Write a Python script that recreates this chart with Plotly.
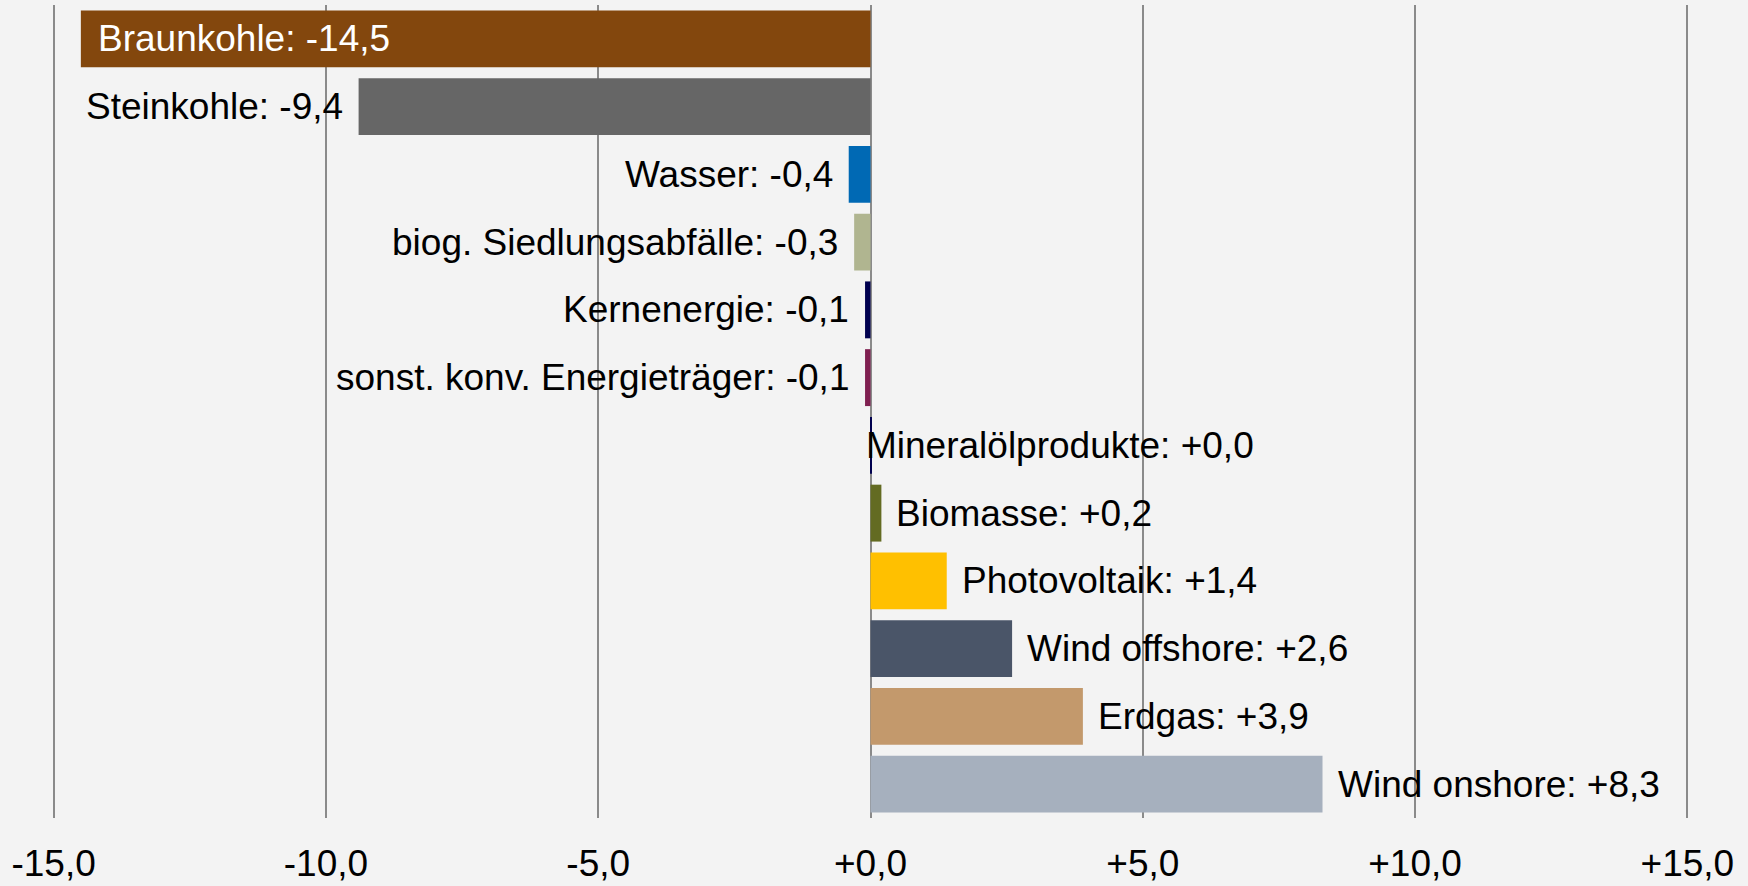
import plotly.graph_objects as go

categories = [
    "Braunkohle", "Steinkohle", "Wasser", "biog. Siedlungsabfälle", "Kernenergie",
    "sonst. konv. Energieträger", "Mineralölprodukte", "Biomasse", "Photovoltaik",
    "Wind offshore", "Erdgas", "Wind onshore",
]
values = [-14.5, -9.4, -0.4, -0.3, -0.1, -0.1, 0.02, 0.2, 1.4, 2.6, 3.9, 8.3]
colors = [
    "#83470D", "#666666", "#0069B4", "#B0B590", "#00004F", "#7F1F50",
    "#00004F", "#636B22", "#FFC000", "#4A5568", "#C3996C", "#A6B0BE",
]
tick_vals = [-15, -10, -5, 0, 5, 10, 15]
tick_text = ["-15,0", "-10,0", "-5,0", "+0,0", "+5,0", "+10,0", "+15,0"]

FONT = "Liberation Sans, Arial, sans-serif"
FS = 37


def fmt(v):
    return f"{v:+.1f}".replace(".", ",")


fig = go.Figure(
    go.Bar(
        x=values,
        y=categories,
        orientation="h",
        marker=dict(color=colors, line=dict(width=0)),
        hoverinfo="skip",
    )
)

annotations = []
for i, (c, v) in enumerate(zip(categories, values)):
    txt = f"{c}: {fmt(v)}"
    if i == 0:
        annotations.append(dict(x=v, y=c, text=txt, xanchor="left", xshift=15,
                                showarrow=False, font=dict(color="white", size=FS, family=FONT)))
    elif v < 0:
        annotations.append(dict(x=v, y=c, text=txt, xanchor="right", xshift=-14,
                                showarrow=False, font=dict(color="black", size=FS, family=FONT)))
    elif v < 0.05:
        annotations.append(dict(x=0, y=c, text=txt, xanchor="left", xshift=-7,
                                showarrow=False, font=dict(color="black", size=FS, family=FONT)))
    else:
        annotations.append(dict(x=v, y=c, text=txt, xanchor="left", xshift=13,
                                showarrow=False, font=dict(color="black", size=FS, family=FONT)))

fig.update_layout(
    width=1748,
    height=886,
    margin=dict(l=52, r=59, t=5, b=68, pad=0, autoexpand=False),
    paper_bgcolor="#F3F3F3",
    plot_bgcolor="#F3F3F3",
    bargap=0.16,
    showlegend=False,
    annotations=annotations,
    font=dict(family=FONT, size=FS, color="black"),
    xaxis=dict(
        range=[-15.03, 15.03],
        tickvals=tick_vals,
        ticktext=tick_text,
        showgrid=True,
        gridcolor="#8A8A8A",
        gridwidth=1.6,
        zeroline=True,
        zerolinecolor="#8A8A8A",
        zerolinewidth=1.6,
        showline=False,
        ticks="",
        ticklabelstandoff=20,
        automargin=False,
        tickfont=dict(size=FS, family=FONT, color="black"),
        fixedrange=True,
    ),
    yaxis=dict(
        categoryorder="array",
        categoryarray=categories,
        autorange="reversed",
        showticklabels=False,
        showgrid=False,
        zeroline=False,
        showline=False,
        ticks="",
        automargin=False,
        fixedrange=True,
    ),
)

fig.write_html(
    "out.html",
    config={"displayModeBar": False},
    post_script="document.body.style.margin='0';document.body.style.background='#F3F3F3';",
)
